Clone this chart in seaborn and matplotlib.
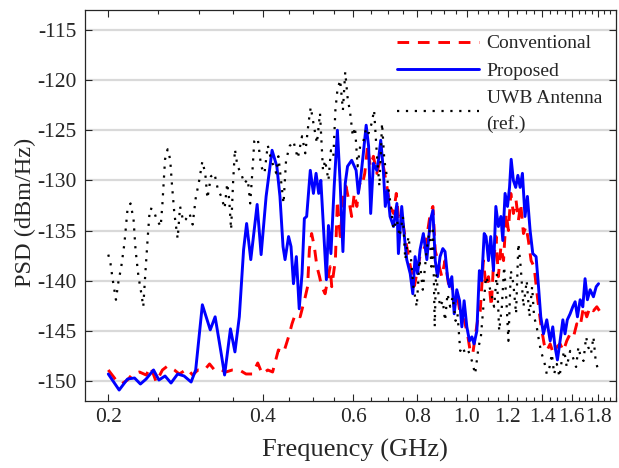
import numpy as np
import pandas as pd
import matplotlib
matplotlib.use("Agg")
import matplotlib.pyplot as plt
import seaborn as sns
from matplotlib.ticker import FixedLocator, NullFormatter

# Values (frequency in GHz, PSD in dBm/Hz)
conv_f = [0.200, 0.207, 0.212, 0.218, 0.223, 0.230, 0.237, 0.242, 0.248, 0.255,
          0.261, 0.269, 0.275, 0.285, 0.292, 0.299, 0.308, 0.315, 0.322, 0.329,
          0.339, 0.349, 0.360, 0.371, 0.382, 0.391, 0.399, 0.409, 0.418, 0.429,
          0.439, 0.449, 0.456, 0.463, 0.473, 0.484, 0.489, 0.493, 0.498, 0.504,
          0.510, 0.516, 0.521, 0.529, 0.541, 0.545, 0.554, 0.559, 0.566, 0.575,
          0.581, 0.590, 0.596, 0.603, 0.610, 0.617, 0.624, 0.632, 0.640, 0.648,
          0.657, 0.667, 0.677, 0.687, 0.698, 0.708, 0.719, 0.728, 0.735, 0.746,
          0.763, 0.775, 0.790, 0.810, 0.830, 0.848, 0.858, 0.867, 0.880, 0.893,
          0.906, 0.920, 0.930, 0.944, 0.958, 0.972, 0.987, 1.002, 1.014, 1.026,
          1.037, 1.049, 1.061, 1.076, 1.089, 1.101, 1.115, 1.126, 1.139, 1.151,
          1.164, 1.178, 1.192, 1.204, 1.217, 1.231, 1.246, 1.259, 1.272, 1.288,
          1.303, 1.317, 1.333, 1.351, 1.371, 1.392, 1.413, 1.430, 1.452, 1.473,
          1.496, 1.518, 1.541, 1.564, 1.588, 1.612, 1.636, 1.661, 1.686, 1.711,
          1.737, 1.763, 1.790, 1.811]
conv_psd = [-148.9, -149.9, -150.3, -149.9, -149.3, -149.1, -149.4, -148.6, -150.1, -148.9,
            -148.5, -148.9, -149.3, -148.8, -149.4, -148.9, -148.9, -148.3, -148.9, -148.8,
            -149.1, -148.9, -148.9, -149.3, -149.3, -148.2, -149.3, -148.9, -149.1, -146.9,
            -147.2, -145.6, -144.3, -143.3, -143.6, -141.6, -140.6, -136.9, -135.3, -136.6,
            -138.6, -139.6, -140.6, -141.3, -138.6, -140.6, -137.9, -132.0, -135.6, -131.3,
            -130.6, -132.3, -133.6, -131.3, -132.6, -130.3, -130.6, -129.3, -126.6, -128.6,
            -127.6, -129.3, -128.0, -128.6, -130.6, -132.6, -133.3, -131.3, -133.6, -133.6,
            -136.6, -138.5, -140.5, -137.5, -136.5, -133.3, -132.6, -137.0, -138.3, -139.6,
            -138.0, -140.3, -139.6, -142.6, -141.6, -143.6, -143.9, -145.3, -147.0, -147.3,
            -145.6, -143.9, -143.0, -138.0, -140.6, -139.6, -142.6, -138.3, -135.6, -139.6,
            -136.6, -138.0, -133.3, -135.0, -131.3, -133.3, -132.0, -134.0, -132.3, -135.3,
            -134.6, -136.0, -138.0, -138.6, -141.6, -144.3, -146.3, -147.0, -146.3, -147.3,
            -146.6, -146.3, -147.0, -146.0, -145.3, -145.6, -144.3, -144.6, -142.6, -143.6,
            -142.6, -143.0, -142.6, -143.0]

prop_f = [0.200, 0.210, 0.218, 0.225, 0.231, 0.237, 0.245, 0.251, 0.258, 0.265,
          0.273, 0.281, 0.290, 0.296, 0.305, 0.316, 0.323, 0.332, 0.337, 0.346,
          0.353, 0.360, 0.367, 0.372, 0.379, 0.390, 0.397, 0.406, 0.417, 0.426,
          0.432, 0.438, 0.442, 0.449, 0.454, 0.459, 0.465, 0.471, 0.477, 0.482,
          0.487, 0.495, 0.502, 0.508, 0.514, 0.519, 0.525, 0.532, 0.537, 0.543,
          0.551, 0.559, 0.566, 0.573, 0.579, 0.585, 0.596, 0.608, 0.614, 0.621,
          0.628, 0.636, 0.643, 0.649, 0.657, 0.667, 0.672, 0.679, 0.687, 0.693,
          0.700, 0.708, 0.719, 0.730, 0.735, 0.746, 0.754, 0.763, 0.775, 0.784,
          0.792, 0.801, 0.810, 0.822, 0.835, 0.848, 0.858, 0.867, 0.876, 0.886,
          0.897, 0.906, 0.916, 0.924, 0.934, 0.944, 0.955, 0.967, 0.977, 0.987,
          0.999, 1.011, 1.022, 1.032, 1.045, 1.057, 1.068, 1.080, 1.089, 1.101,
          1.112, 1.126, 1.138, 1.151, 1.164, 1.174, 1.186, 1.199, 1.210, 1.219,
          1.231, 1.244, 1.256, 1.269, 1.282, 1.297, 1.311, 1.327, 1.343, 1.363,
          1.378, 1.392, 1.409, 1.430, 1.452, 1.469, 1.484, 1.500, 1.518, 1.537,
          1.552, 1.568, 1.588, 1.607, 1.624, 1.641, 1.661, 1.681, 1.698, 1.716,
          1.737, 1.763, 1.785, 1.804]
prop_psd = [-149.3, -150.9, -149.8, -149.7, -150.3, -149.8, -148.9, -149.9, -149.5, -150.2,
            -149.3, -149.5, -150.1, -148.9, -142.4, -144.9, -143.6, -147.3, -149.4, -144.8,
            -147.1, -143.6, -136.9, -134.3, -137.9, -132.4, -137.4, -131.6, -127.0, -128.6,
            -131.6, -136.6, -137.9, -135.6, -136.6, -140.3, -137.6, -142.8, -139.3, -133.8,
            -133.6, -129.0, -131.3, -129.3, -131.3, -130.0, -134.6, -139.9, -134.5, -137.3,
            -130.6, -125.0, -130.3, -137.1, -130.3, -128.6, -128.0, -129.0, -131.3, -129.6,
            -127.3, -124.5, -126.6, -133.3, -128.3, -129.0, -128.0, -126.0, -129.0, -132.6,
            -131.0, -133.6, -134.6, -132.3, -137.3, -132.6, -135.3, -137.9, -139.3, -141.3,
            -137.6, -139.3, -136.9, -135.3, -137.9, -134.0, -133.0, -138.0, -139.6, -137.6,
            -136.8, -137.1, -139.6, -140.6, -139.6, -143.3, -140.9, -142.0, -144.6, -142.0,
            -144.6, -146.0, -145.6, -146.3, -145.0, -139.0, -140.0, -135.3, -135.6, -138.0,
            -135.6, -139.0, -132.6, -134.6, -133.6, -136.0, -131.3, -132.6, -130.7, -127.9,
            -130.0, -130.7, -129.5, -130.7, -129.3, -133.6, -131.6, -135.0, -137.3, -137.6,
            -140.6, -143.6, -145.3, -143.9, -146.0, -144.6, -146.6, -147.9, -146.0, -143.9,
            -145.3, -143.9, -143.3, -142.6, -142.1, -143.6, -141.9, -142.6, -139.8, -141.9,
            -140.9, -141.6, -140.6, -140.3]

uwb_f = [0.200, 0.202, 0.204, 0.207, 0.209, 0.212, 0.215, 0.218, 0.221, 0.224,
         0.226, 0.229, 0.232, 0.234, 0.236, 0.239, 0.241, 0.245, 0.248, 0.253,
         0.255, 0.258, 0.261, 0.264, 0.266, 0.269, 0.273, 0.276, 0.280, 0.283,
         0.288, 0.292, 0.296, 0.301, 0.305, 0.309, 0.312, 0.317, 0.322, 0.327,
         0.332, 0.337, 0.341, 0.344, 0.347, 0.350, 0.353, 0.357, 0.363, 0.368,
         0.374, 0.378, 0.382, 0.385, 0.391, 0.397, 0.403, 0.409, 0.415, 0.425,
         0.429, 0.434, 0.439, 0.444, 0.451, 0.459, 0.468, 0.477, 0.484, 0.491,
         0.496, 0.502, 0.510, 0.517, 0.524, 0.529, 0.537, 0.543, 0.549, 0.554,
         0.559, 0.566, 0.573, 0.579, 0.585, 0.592, 0.599, 0.605, 0.612, 0.619,
         0.627, 0.636, 0.643, 0.652, 0.659, 0.667, 0.675, 0.683, 0.690, 0.698,
         0.708, 0.719, 0.730, 0.739, 0.750, 0.758, 0.769, 0.777, 0.786, 0.798,
         0.808, 0.820, 0.833, 0.845, 0.852, 0.858, 0.865, 0.870, 0.876, 0.886,
         0.897, 0.906, 0.916, 0.927, 0.938, 0.950, 0.958, 0.970, 0.981, 0.992,
         1.006, 1.022, 1.037, 1.053, 1.064, 1.076, 1.089, 1.106, 1.118, 1.129,
         1.143, 1.155, 1.169, 1.181, 1.192, 1.204, 1.217, 1.231, 1.246, 1.259,
         1.272, 1.288, 1.307, 1.323, 1.339, 1.351, 1.367, 1.384, 1.398, 1.413,
         1.430, 1.448, 1.463, 1.478, 1.496, 1.514, 1.529, 1.547, 1.564, 1.588,
         1.607, 1.631, 1.648, 1.665, 1.686, 1.706, 1.722, 1.744, 1.763, 1.781,
         1.798]
uwb_psd = [-137.4, -138.3, -139.9, -141.9, -140.3, -138.6, -136.3, -132.9, -132.3, -133.9,
           -136.9, -139.6, -141.3, -142.6, -139.5, -135.3, -132.8, -132.9, -133.8, -134.6,
           -132.3, -127.9, -126.9, -127.9, -130.3, -133.3, -135.8, -132.6, -134.1, -133.9,
           -133.3, -134.4, -131.8, -129.9, -128.1, -129.3, -131.8, -129.6, -129.3, -130.9,
           -131.6, -132.8, -130.3, -131.9, -134.9, -130.3, -126.9, -128.6, -129.3, -130.3,
           -129.9, -132.3, -128.9, -126.1, -125.8, -128.6, -129.3, -126.5, -127.9, -129.3,
           -127.6, -130.0, -132.3, -128.0, -126.6, -126.1, -127.8, -125.6, -127.3, -124.3,
           -122.7, -124.3, -126.3, -123.3, -129.0, -128.0, -130.0, -127.0, -127.6, -123.0,
           -121.0, -120.0, -123.0, -119.2, -121.7, -123.3, -125.6, -124.7, -128.6, -126.6,
           -126.3, -124.8, -125.3, -124.3, -123.0, -127.3, -130.6, -124.3, -128.0, -129.6,
           -132.0, -134.9, -133.9, -135.6, -133.6, -137.9, -135.6, -137.6, -140.6, -142.6,
           -137.9, -140.9, -137.3, -134.9, -138.6, -134.6, -144.6, -139.3, -140.6, -142.6,
           -142.0, -144.0, -141.3, -142.6, -141.6, -144.0, -143.3, -147.0, -146.6, -147.3,
           -147.0, -148.0, -149.3, -146.6, -145.6, -142.6, -139.6, -140.6, -141.6, -142.6,
           -139.3, -145.0, -142.6, -138.6, -141.6, -146.0, -139.0, -140.3, -143.3, -136.3,
           -138.6, -142.6, -140.0, -143.6, -140.6, -143.6, -144.6, -146.3, -147.3, -148.0,
           -149.3, -148.6, -147.3, -149.3, -148.3, -149.6, -148.0, -147.0, -148.6, -147.0,
           -147.6, -148.6, -146.6, -147.6, -148.0, -145.6, -146.6, -147.3, -145.6, -148.0,
           -148.8]

xticks = [0.2, 0.4, 0.6, 0.8, 1.0, 1.2, 1.4, 1.6, 1.8]
xtick_labels = ["0.2", "0.4", "0.6", "0.8", "1.0", "1.2", "1.4", "1.6", "1.8"]
yticks = [-150, -145, -140, -135, -130, -125, -120, -115]

sns.set_style("ticks")
plt.rcParams['font.family'] = ['Liberation Serif', 'DejaVu Serif']

fig, ax = plt.subplots(figsize=(6.19, 4.68), dpi=100)
fig.subplots_adjust(left=0.137, right=0.995, top=0.979, bottom=0.143)

ax.yaxis.grid(True, color='#d9d9d9', linewidth=1.6)
ax.set_axisbelow(True)

sns.lineplot(x=conv_f, y=conv_psd, ax=ax, color='#ff0000', linewidth=2.1,
             linestyle=(0, (4, 3)), estimator=None, sort=False,
             label='Conventional')
sns.lineplot(x=prop_f, y=prop_psd, ax=ax, color='#0000ff', linewidth=2.1,
             estimator=None, sort=False, label='Proposed')
sns.lineplot(x=uwb_f, y=uwb_psd, ax=ax, color='black', linewidth=1.6,
             linestyle=(0, (1, 3)), estimator=None, sort=False,
             label='UWB Antenna\n(ref.)')

ax.set_xscale('log')
ax.set_xlim(0.18, 1.95)
ax.set_ylim(-152, -113)

minor = [v / 100 for v in range(20, 200, 5) if v % 20 != 0]
ax.xaxis.set_major_locator(FixedLocator(xticks))
ax.xaxis.set_minor_locator(FixedLocator(minor))
ax.set_xticklabels(xtick_labels)
ax.xaxis.set_minor_formatter(NullFormatter())
ax.set_yticks(yticks)
ax.set_yticklabels([str(v) for v in yticks])

ax.tick_params(which='both', direction='in', top=True, right=True,
               labelsize=15.5, colors='#262626', width=0.8)
ax.tick_params(which='major', length=5)
ax.tick_params(which='minor', length=3)
ax.tick_params(axis='x', pad=5)
ax.tick_params(axis='y', pad=6)
for sp in ax.spines.values():
    sp.set_color('#262626')
    sp.set_linewidth(0.9)

ax.set_xlabel('Frequency (GHz)', fontsize=19, color='#262626', labelpad=8.5)
ax.set_ylabel('PSD (dBm/Hz)', fontsize=17.5, color='#262626', labelpad=1)
# MATLAB-style label placement is a touch off-centre
ax.xaxis.label.set_x(0.508)
ax.yaxis.label.set_y(0.482)

leg = ax.legend(loc='upper left', frameon=False, fontsize=14,
                handlelength=4.2, handletextpad=0.4, labelspacing=0.5,
                bbox_to_anchor=(0.588, 0.936), borderaxespad=0, borderpad=0)
for t in leg.get_texts():
    t.set_color('#262626')
    t.set_linespacing(1.6)

fig.savefig('out.png', dpi=100)
